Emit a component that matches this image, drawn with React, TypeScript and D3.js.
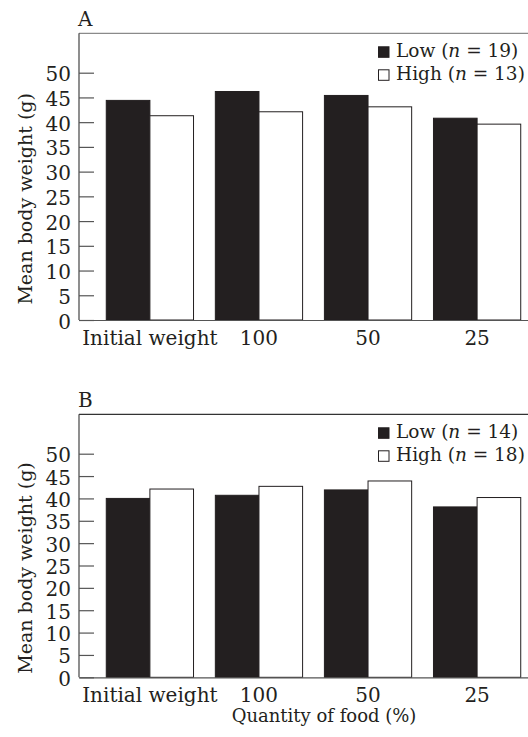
import React, { useEffect, useRef } from 'react'
import * as d3 from 'd3'

const categories = ['Initial weight', '100', '50', '25']
const groups = ['Low', 'High']
const yTicks = [0, 5, 10, 15, 20, 25, 30, 35, 40, 45, 50]

const lowA = [44.4, 46.2, 45.4, 40.8]
const highA = [41.3, 42.1, 43.1, 39.6]
const lowB = [40.0, 40.7, 41.9, 38.1]
const highB = [42.1, 42.7, 43.9, 40.2]

const nA = [19, 13]
const nB = [14, 18]

const FONT = '"DejaVu Serif", serif'

const makePanel = (svg, { label, top, zero, y50, low, high, n, frameColor, titleX }) => {
  const x = d3.scaleBand().domain(categories).range([79, 548]).paddingInner(0.2).paddingOuter(0.25)
  const xGroup = d3.scaleBand().domain(groups).range([0, x.bandwidth()])
  const y = d3.scaleLinear().domain([0, 50]).range([zero, y50])

  const g = svg.append('g')

  // panel letter
  g.append('text')
    .attr('x', 78)
    .attr('y', top - 7)
    .attr('font-size', 20)
    .attr('font-family', FONT)
    .attr('fill', '#231f20')
    .text(label)

  // top frame line + left axis line
  g.append('line')
    .attr('x1', 79).attr('x2', 528)
    .attr('y1', top).attr('y2', top)
    .attr('stroke', frameColor)
    .attr('stroke-width', 1.2)
  g.append('line')
    .attr('x1', 79).attr('x2', 79)
    .attr('y1', top).attr('y2', zero)
    .attr('stroke', '#444')
    .attr('stroke-width', 1.2)

  // bars
  const rows = categories.map((c, i) => ({ cat: c, values: [low[i], high[i]] }))
  const grp = g.selectAll('g.grp')
    .data(rows)
    .enter()
    .append('g')
    .attr('transform', (d) => `translate(${x(d.cat)},0)`)

  grp.selectAll('rect')
    .data((d) => d.values.map((v, j) => ({ key: groups[j], v })))
    .enter()
    .append('rect')
    .attr('x', (d) => xGroup(d.key))
    .attr('y', (d) => y(d.v))
    .attr('width', xGroup.bandwidth())
    .attr('height', (d) => zero - y(d.v))
    .attr('fill', (d) => (d.key === 'Low' ? '#231f20' : '#fff'))
    .attr('stroke', '#231f20')
    .attr('stroke-width', 1)

  // y axis, ticks pointing inward
  const yAxis = g.append('g')
    .attr('transform', 'translate(79,0)')
    .call(d3.axisLeft(y).tickValues(yTicks).tickSizeInner(-15).tickSizeOuter(0).tickPadding(8))
  yAxis.select('.domain').remove()
  yAxis.selectAll('line').attr('stroke', '#555').attr('stroke-width', 1.2)
  yAxis.selectAll('text')
    .attr('font-family', FONT)
    .attr('font-size', 20)
    .attr('fill', '#231f20')
    .attr('dy', '0.4em')

  // x axis
  const xAxis = g.append('g')
    .attr('transform', `translate(0,${zero})`)
    .call(d3.axisBottom(x).tickSize(0).tickPadding(11))
  xAxis.select('.domain').attr('stroke', '#555').attr('stroke-width', 1.2)
  xAxis.selectAll('text')
    .attr('font-family', FONT)
    .attr('font-size', 20)
    .attr('fill', '#231f20')

  // y title
  g.append('text')
    .attr('transform', `translate(32,${(zero + y50) / 2 + 2.5}) rotate(-90)`)
    .attr('text-anchor', 'middle')
    .attr('font-family', FONT)
    .attr('font-size', 19)
    .attr('fill', '#231f20')
    .text('Mean body weight (g)')

  // legend
  const legend = g.append('g').attr('transform', `translate(378,${top + 24})`)
  groups.forEach((key, i) => {
    const row = legend.append('g').attr('transform', `translate(0,${i * 23})`)
    row.append('rect')
      .attr('x', 0.5).attr('y', -10.5)
      .attr('width', 10.5).attr('height', 10.5)
      .attr('fill', key === 'Low' ? '#231f20' : '#fff')
      .attr('stroke', '#231f20')
      .attr('stroke-width', 1)
    const t = row.append('text')
      .attr('x', 18)
      .attr('font-family', FONT)
      .attr('font-size', 18.5)
      .attr('fill', '#231f20')
    t.append('tspan').text(`${key} (`)
    t.append('tspan').attr('font-style', 'italic').text('n')
    t.append('tspan').text(` = ${n[i]})`)
  })

  if (titleX) {
    g.append('text')
      .attr('x', 324)
      .attr('y', zero + 45)
      .attr('text-anchor', 'middle')
      .attr('font-family', FONT)
      .attr('font-size', 18)
      .attr('fill', '#231f20')
      .text('Quantity of food (%)')
  }
}

const App = () => {
  const ref = useRef(null)

  useEffect(() => {
    document.body.style.margin = '0'
    const svg = d3.select(ref.current)
    svg.selectAll('*').remove()

    makePanel(svg, { label: 'A', top: 33.3, zero: 320, y50: 72.7, low: lowA, high: highA, n: nA, frameColor: '#8a8a8a', titleX: false })
    makePanel(svg, { label: 'B', top: 414.3, zero: 677.3, y50: 453.7, low: lowB, high: highB, n: nB, frameColor: '#333', titleX: true })
  }, [])

  return <svg ref={ref} width={528} height={737} style={{ display: 'block', background: '#fff' }} />
}

export default App
